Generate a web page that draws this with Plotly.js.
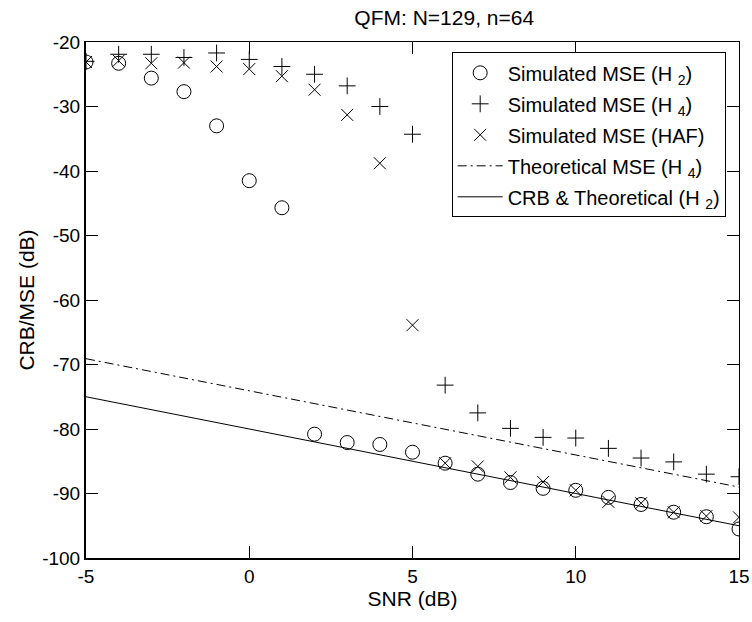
<!DOCTYPE html>
<html>
<head>
<meta charset="utf-8">
<script src="https://cdn.plot.ly/plotly-3.0.1.min.js"></script>
<style>html,body{margin:0;padding:0;background:#fff;}#chart{width:752px;height:622px;}</style>
</head>
<body>
<div id="chart"></div>
<script>
var snr = [-5,-4,-3,-2,-1,0,1,2,3,4,5,6,7,8,9,10,11,12,13,14,15];
var simH2 = [-23.1,-23.3,-25.6,-27.7,-33.0,-41.5,-45.7,-80.8,-82.1,-82.4,-83.6,-85.3,-87.0,-88.3,-89.2,-89.5,-90.6,-91.7,-92.9,-93.6,-95.5];
var simH4 = [-23.0,-21.9,-21.9,-22.4,-21.7,-22.7,-23.8,-25.0,-26.8,-30.0,-34.3,-73.2,-77.5,-79.9,-81.3,-81.4,-83.0,-84.5,-85.1,-87.0,-87.4];
var simHAF = [-23.1,-22.9,-23.3,-23.2,-23.8,-24.2,-25.3,-27.4,-31.3,-38.8,-63.9,-85.3,-85.8,-87.5,-88.2,-89.5,-91.3,-91.5,-92.9,-93.5,-93.7];
var lineSNR = [-5,15];
var theoH4 = [-69.1,-89.0];
var crbH2 = [-75.0,-95.0];
var xTicks = [-5,0,5,10,15];
var xTickText = ['-5','0','5','10','15'];
var yTicks = [-100,-90,-80,-70,-60,-50,-40,-30,-20];
var yTickText = ['-100','-90','-80','-70','-60','-50','-40','-30','-20'];

var FONT = 'Liberation Sans, Arial, sans-serif';
var data = [
  {x: snr, y: simH2, mode: 'markers', name: 'Simulated MSE (H <sub>2</sub>)', legendgroup: 'a',
   marker: {symbol: 'circle-open', size: 14, color: '#000', line: {width: 1, color: '#000'}}},
  {x: snr, y: simH4, mode: 'markers', name: 'Simulated MSE (H <sub>4</sub>)', legendgroup: 'b',
   marker: {symbol: 'cross-thin-open', size: 12, color: '#000', line: {width: 1, color: '#000'}}},
  {x: snr, y: simHAF, mode: 'markers', name: 'Simulated MSE (HAF)', legendgroup: 'c',
   marker: {symbol: 'x-thin-open', size: 12, color: '#000', line: {width: 1, color: '#000'}}},
  {x: lineSNR, y: theoH4, mode: 'lines', name: 'Theoretical MSE (H <sub>4</sub>)', legendgroup: 'd',
   line: {color: '#000', width: 1, dash: '9px,4px,2px,4px'}},
  {x: lineSNR, y: crbH2, mode: 'lines', name: 'CRB &amp; Theoretical (H <sub>2</sub>)', legendgroup: 'e',
   line: {color: '#000', width: 1}},
  // invisible trace carrying the mirrored top/right axes
  {x: lineSNR, y: crbH2, xaxis: 'x2', yaxis: 'y2', mode: 'lines', showlegend: false,
   hoverinfo: 'skip', line: {width: 0, color: 'rgba(0,0,0,0)'}}
];

var layout = {
  width: 752, height: 622,
  margin: {l: 86, r: 13, t: 42, b: 64},
  paper_bgcolor: '#fff', plot_bgcolor: '#fff',
  font: {family: FONT, size: 19, color: '#000'},
  title: {text: 'QFM: N=129, n=64', font: {family: FONT, size: 21, color: '#000'},
          x: 0.5486, xref: 'paper', xanchor: 'center', y: 0.971, yanchor: 'middle'},
  showlegend: true,
  legend: {x: 0.56, y: 0.98, xanchor: 'left', yanchor: 'top', tracegroupgap: 2,
           bordercolor: '#000', borderwidth: 1, bgcolor: '#fff',
           font: {family: FONT, size: 20, color: '#000'}, itemwidth: 45},
  xaxis: {range: [-5, 15], tickvals: xTicks, ticktext: xTickText, ticks: 'inside', ticklen: 12, tickwidth: 1,
          tickcolor: '#000', showline: true, linecolor: '#000', linewidth: 2,
          showgrid: false, zeroline: false, mirror: false,
          title: {text: 'SNR (dB)', font: {family: FONT, size: 21}, standoff: 5},
          tickfont: {family: FONT, size: 19}},
  yaxis: {range: [-100, -20], tickvals: yTicks, ticktext: yTickText, ticks: 'inside', ticklen: 12, tickwidth: 1,
          tickcolor: '#000', showline: true, linecolor: '#000', linewidth: 2,
          showgrid: false, zeroline: false, mirror: false,
          title: {text: 'CRB/MSE (dB)', font: {family: FONT, size: 21}, standoff: 2},
          tickfont: {family: FONT, size: 19}},
  xaxis2: {range: [-5, 15], tickvals: xTicks, ticks: 'inside', ticklen: 12, tickwidth: 1,
           tickcolor: '#000', showline: true, linecolor: '#000', linewidth: 1,
           showgrid: false, zeroline: false, showticklabels: false,
           overlaying: 'x', side: 'top', anchor: 'y2'},
  yaxis2: {range: [-100, -20], tickvals: yTicks, ticks: 'inside', ticklen: 12, tickwidth: 1,
           tickcolor: '#000', showline: true, linecolor: '#000', linewidth: 1,
           showgrid: false, zeroline: false, showticklabels: false,
           overlaying: 'y', side: 'right', anchor: 'x2'}
};

Plotly.newPlot('chart', data, layout, {displayModeBar: false, staticPlot: true});
</script>
</body>
</html>
